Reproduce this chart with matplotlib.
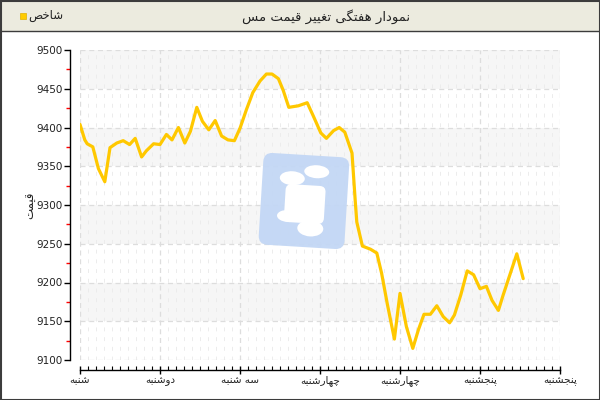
import matplotlib
matplotlib.use('Agg')
import matplotlib.pyplot as plt
import matplotlib.transforms as mtransforms
from matplotlib.patches import Rectangle, FancyBboxPatch, Ellipse
from matplotlib.ticker import MultipleLocator
import numpy as np

# ---------------- data ----------------
title = 'نمودار هفتگی تغییر قیمت مس'
legend_label = 'شاخص'
y_label = 'قیمت'
day_labels = ['شنبه', 'دوشنبه', 'سه شنبه', 'چهارشنبه', 'چهارشنبه', 'پنجشنبه', 'پنجشنبه']
x_days = [0.0, 0.06, 0.09, 0.16, 0.23, 0.31, 0.375, 0.46, 0.54, 0.62, 0.69, 0.77, 0.83, 0.92,
          1.0, 1.08, 1.15, 1.23, 1.31, 1.38, 1.46, 1.53, 1.61, 1.69, 1.77, 1.85, 1.93,
          2.0, 2.08, 2.16, 2.25, 2.33, 2.40, 2.48, 2.54, 2.61, 2.73, 2.84, 2.92,
          3.01, 3.08, 3.17, 3.24, 3.31, 3.40, 3.44, 3.46, 3.53, 3.63, 3.71, 3.77, 3.84, 3.93,
          4.0, 4.08, 4.16, 4.23, 4.30, 4.38, 4.46, 4.54, 4.62, 4.68, 4.76, 4.84, 4.92,
          5.0, 5.08, 5.15, 5.23, 5.29, 5.38, 5.46, 5.54]
prices = [9404, 9384, 9379, 9375, 9347, 9330, 9374, 9380, 9383, 9378, 9386, 9362, 9370, 9379,
          9378, 9391, 9384, 9400, 9380, 9395, 9426, 9408, 9397, 9409, 9389, 9384, 9383,
          9399, 9423, 9445, 9460, 9469, 9469, 9463, 9448, 9426, 9428, 9432, 9414,
          9393, 9386, 9396, 9400, 9394, 9367, 9306, 9278, 9247, 9243, 9238, 9212, 9173, 9127,
          9186, 9143, 9115, 9139, 9159, 9159, 9170, 9156, 9148, 9158, 9184, 9215, 9210,
          9192, 9195, 9177, 9164, 9184, 9212, 9237, 9205]
y_min, y_max, y_step = 9100, 9500, 50

# ---------------- minimal Arabic/Persian shaping ----------------
FORMS = {
    'ا': ('\uFE8D', '\uFE8E', None, None),
    'د': ('\uFEA9', '\uFEAA', None, None),
    'ر': ('\uFEAD', '\uFEAE', None, None),
    'و': ('\uFEED', '\uFEEE', None, None),
    'ب': ('\uFE8F', '\uFE90', '\uFE91', '\uFE92'),
    'ت': ('\uFE95', '\uFE96', '\uFE97', '\uFE98'),
    'ج': ('\uFE9D', '\uFE9E', '\uFE9F', '\uFEA0'),
    'خ': ('\uFEA5', '\uFEA6', '\uFEA7', '\uFEA8'),
    'س': ('\uFEB1', '\uFEB2', '\uFEB3', '\uFEB4'),
    'ش': ('\uFEB5', '\uFEB6', '\uFEB7', '\uFEB8'),
    'ص': ('\uFEB9', '\uFEBA', '\uFEBB', '\uFEBC'),
    'غ': ('\uFECD', '\uFECE', '\uFECF', '\uFED0'),
    'ف': ('\uFED1', '\uFED2', '\uFED3', '\uFED4'),
    'ق': ('\uFED5', '\uFED6', '\uFED7', '\uFED8'),
    'م': ('\uFEE1', '\uFEE2', '\uFEE3', '\uFEE4'),
    'ن': ('\uFEE5', '\uFEE6', '\uFEE7', '\uFEE8'),
    'ه': ('\uFEE9', '\uFEEA', '\uFEEB', '\uFEEC'),
    'ی': ('\uFBFC', '\uFBFD', '\uFBFE', '\uFBFF'),
    'گ': ('\uFB92', '\uFB93', '\uFB94', '\uFB95'),
    'چ': ('\uFB7A', '\uFB7B', '\uFB7C', '\uFB7D'),
    'پ': ('\uFB56', '\uFB57', '\uFB58', '\uFB59'),
}


def shape(s):
    out = []
    n = len(s)
    for i, c in enumerate(s):
        if c not in FORMS:
            out.append(c)
            continue
        prev = s[i - 1] if i > 0 else None
        nxt = s[i + 1] if i < n - 1 else None
        join_prev = prev in FORMS and FORMS[prev][2] is not None
        join_next = nxt in FORMS and FORMS[c][2] is not None
        iso, fin, ini, med = FORMS[c]
        if join_prev and join_next:
            out.append(med)
        elif join_prev:
            out.append(fin)
        elif join_next:
            out.append(ini)
        else:
            out.append(iso)
    return ''.join(out)[::-1]


plt.rcParams['font.family'] = ['DejaVu Sans']

W, H = 600, 400
fig = plt.figure(figsize=(6, 4), dpi=100)
fig.patch.set_facecolor('white')
# pixel transform (x right, y down)
pix = mtransforms.Affine2D().scale(1 / W, -1 / H).translate(0, 1) + fig.transFigure

# title bar
fig.patches.append(Rectangle((0, 0), W, 31, transform=pix, facecolor='#ecebdf',
                             edgecolor='none', zorder=0))
fig.lines.append(plt.Line2D([0, W], [31, 31], transform=pix, color='#3c3c3c', lw=1.0))
# outer border
fig.patches.append(Rectangle((0.5, 0.5), W - 1, H - 1, transform=pix, facecolor='none',
                             edgecolor='#3c3c3c', lw=1.5, zorder=5))
fig.text(326 / W, 1 - 17 / H, shape(title), ha='center', va='center', fontsize=9.5,
         color='#222222')
fig.patches.append(Rectangle((20, 13), 6, 6, transform=pix, facecolor='#ffcc00',
                             edgecolor='#e0b000', lw=0.5))
fig.text(28 / W, 1 - 16 / H, shape(legend_label), ha='left', va='center', fontsize=8.5,
         color='#222222')

# main axes
ax = fig.add_axes([80 / W, 1 - 360 / H, 480 / W, 310 / H])
ax.set_xlim(0, 6)
ax.set_ylim(y_min, y_max)
ax.set_facecolor('none')

# alternating bands
for lo in range(y_min, y_max, y_step):
    if ((y_max - lo) // y_step) % 2 == 1:
        ax.axhspan(lo, lo + y_step, color='#f6f6f6', zorder=0, lw=0)

# grids
for yv in range(y_min, y_max + 1, y_step):
    ax.axhline(yv, color='#dddddd', lw=0.9, ls=(0, (4, 3)), zorder=0.5)
for xv in range(0, 7):
    ax.axvline(xv, color='#dddddd', lw=0.9, ls=(0, (4, 3)), zorder=0.5)
for xv in np.arange(0, 6, 0.1):
    if abs(xv - round(xv)) > 1e-6:
        ax.axvline(xv, color='#ececec', lw=0.7, ls=(0, (4, 6)), zorder=0.4)

# watermark logo
wm_rot = mtransforms.Affine2D().rotate_deg_around(304, 200, 3.5) + pix
ax.add_patch(FancyBboxPatch((261, 155), 86, 92, boxstyle='round,pad=0,rounding_size=9',
                            transform=wm_rot, facecolor='#c3d7f5', edgecolor='none',
                            alpha=0.95, zorder=1))
for (cx, cy, w, h) in [(315, 171, 25, 13), (291, 179, 25, 14)]:
    ax.add_patch(Ellipse((cx, cy), w, h, transform=wm_rot, facecolor='white',
                         edgecolor='none', zorder=1.1))
ax.add_patch(FancyBboxPatch((285, 185), 40, 38, boxstyle='round,pad=0,rounding_size=6',
                            transform=wm_rot, facecolor='white', edgecolor='none', zorder=1.1))
ax.add_patch(Ellipse((312, 228), 26, 16, transform=wm_rot, facecolor='white',
                     edgecolor='none', zorder=1.1))
ax.add_patch(Ellipse((289, 217), 22, 12, transform=wm_rot, facecolor='white',
                     edgecolor='none', zorder=1.1))

# data line
ax.plot(x_days, prices, color='#ffc800', lw=2.3, solid_joinstyle='round',
        solid_capstyle='round', zorder=3)

# spines
for s in ['top', 'right']:
    ax.spines[s].set_visible(False)
ax.spines['left'].set_position(('outward', 7.2))
ax.spines['bottom'].set_position(('outward', 7.2))
for s in ['left', 'bottom']:
    ax.spines[s].set_color('black')
    ax.spines[s].set_linewidth(1.0)

ax.yaxis.set_major_locator(MultipleLocator(y_step))
ax.yaxis.set_minor_locator(MultipleLocator(y_step / 2))
ax.tick_params(axis='y', which='major', direction='out', length=4, width=1,
               color='black', labelsize=7.5, pad=1.5, labelcolor='#222222')
ax.tick_params(axis='y', which='minor', direction='out', length=3, width=1, color='red')

ax.set_xticks(range(0, 7))
ax.set_xticklabels([shape(d) for d in day_labels])
ax.xaxis.set_minor_locator(MultipleLocator(0.1))
ax.tick_params(axis='x', which='major', direction='inout', length=6, width=1,
               color='black', labelsize=7.5, pad=1, labelcolor='#222222')
ax.tick_params(axis='x', which='minor', direction='in', length=3, width=0.8, color='black')

fig.text(31 / W, 1 - 205 / H, shape(y_label), rotation=90, ha='center', va='center',
         fontsize=8.5, color='#222222')

fig.savefig('out.png', dpi=100)
